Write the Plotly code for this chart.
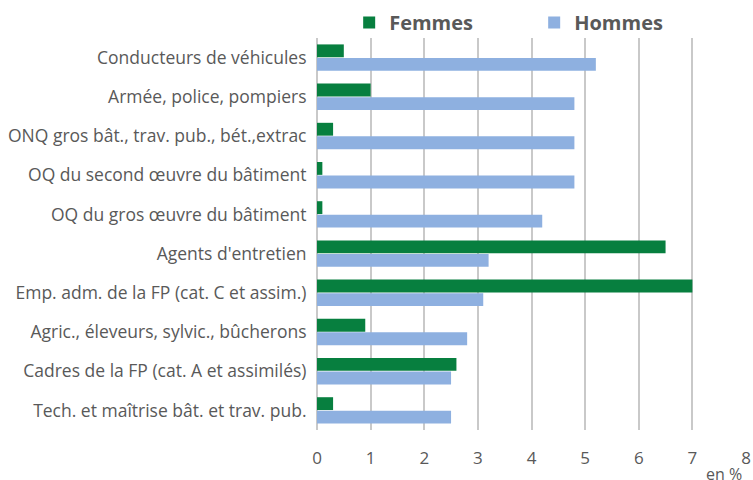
import plotly.graph_objects as go

categories = [
    "Conducteurs de véhicules",
    "Armée, police, pompiers",
    "ONQ gros bât., trav. pub., bét.,extrac",
    "OQ du second œuvre du bâtiment",
    "OQ du gros œuvre du bâtiment",
    "Agents d'entretien",
    "Emp. adm. de la FP (cat. C et assim.)",
    "Agric., éleveurs, sylvic., bûcherons",
    "Cadres de la FP (cat. A et assimilés)",
    "Tech. et maîtrise bât. et trav. pub.",
]
femmes = [0.5, 1.0, 0.3, 0.1, 0.1, 6.5, 7.0, 0.9, 2.6, 0.3]
hommes = [5.2, 4.8, 4.8, 4.8, 4.2, 3.2, 3.1, 2.8, 2.5, 2.5]
x_ticks = [0, 1, 2, 3, 4, 5, 6, 7, 8]

FONT = "Open Sans, Segoe UI, sans-serif"
GREY = "#595959"

fig = go.Figure()
fig.add_trace(go.Bar(y=categories, x=femmes, orientation="h", name="<b>Femmes</b>",
                     marker=dict(color="#077f3f", line=dict(width=0))))
fig.add_trace(go.Bar(y=categories, x=hommes, orientation="h", name="<b>Hommes</b>",
                     marker=dict(color="#8eb0e0", line=dict(width=0))))

fig.update_layout(
    width=753, height=480,
    margin=dict(l=317, r=7, t=38, b=50, autoexpand=False),
    paper_bgcolor="white", plot_bgcolor="white",
    barmode="group", bargap=0.31, bargroupgap=0.05,
    font=dict(family=FONT, color=GREY, size=15),
    showlegend=True,
    legend=dict(orientation="h", x=0.075, y=0.99, xanchor="left", yanchor="bottom",
                font=dict(size=20, color=GREY, family=FONT),
                traceorder="normal", entrywidth=140, entrywidthmode="pixels",
                bgcolor="rgba(0,0,0,0)"),
    xaxis=dict(range=[0, 8], tickvals=x_ticks, showgrid=True, gridcolor="#c9c9c9",
               gridwidth=1.5, zeroline=True, zerolinecolor="#c9c9c9", zerolinewidth=1.5,
               showline=False, tickfont=dict(size=17, color=GREY), ticks="outside",
               ticklen=13, tickcolor="rgba(0,0,0,0)", automargin=False),
    yaxis=dict(autorange="reversed", showgrid=False, ticks="outside", ticklen=6,
               tickcolor="rgba(0,0,0,0)",
               tickfont=dict(size=17.5, color=GREY), showline=False,
               automargin=False),
)
fig.add_annotation(text="en %", xref="paper", yref="paper", x=1.0, y=0, xanchor="right",
                   yanchor="top", yshift=-31, xshift=-2, showarrow=False,
                   font=dict(size=16, color=GREY))

fig.write_html("out.html", post_script="document.body.style.margin='0';",
               config={"displayModeBar": False})
